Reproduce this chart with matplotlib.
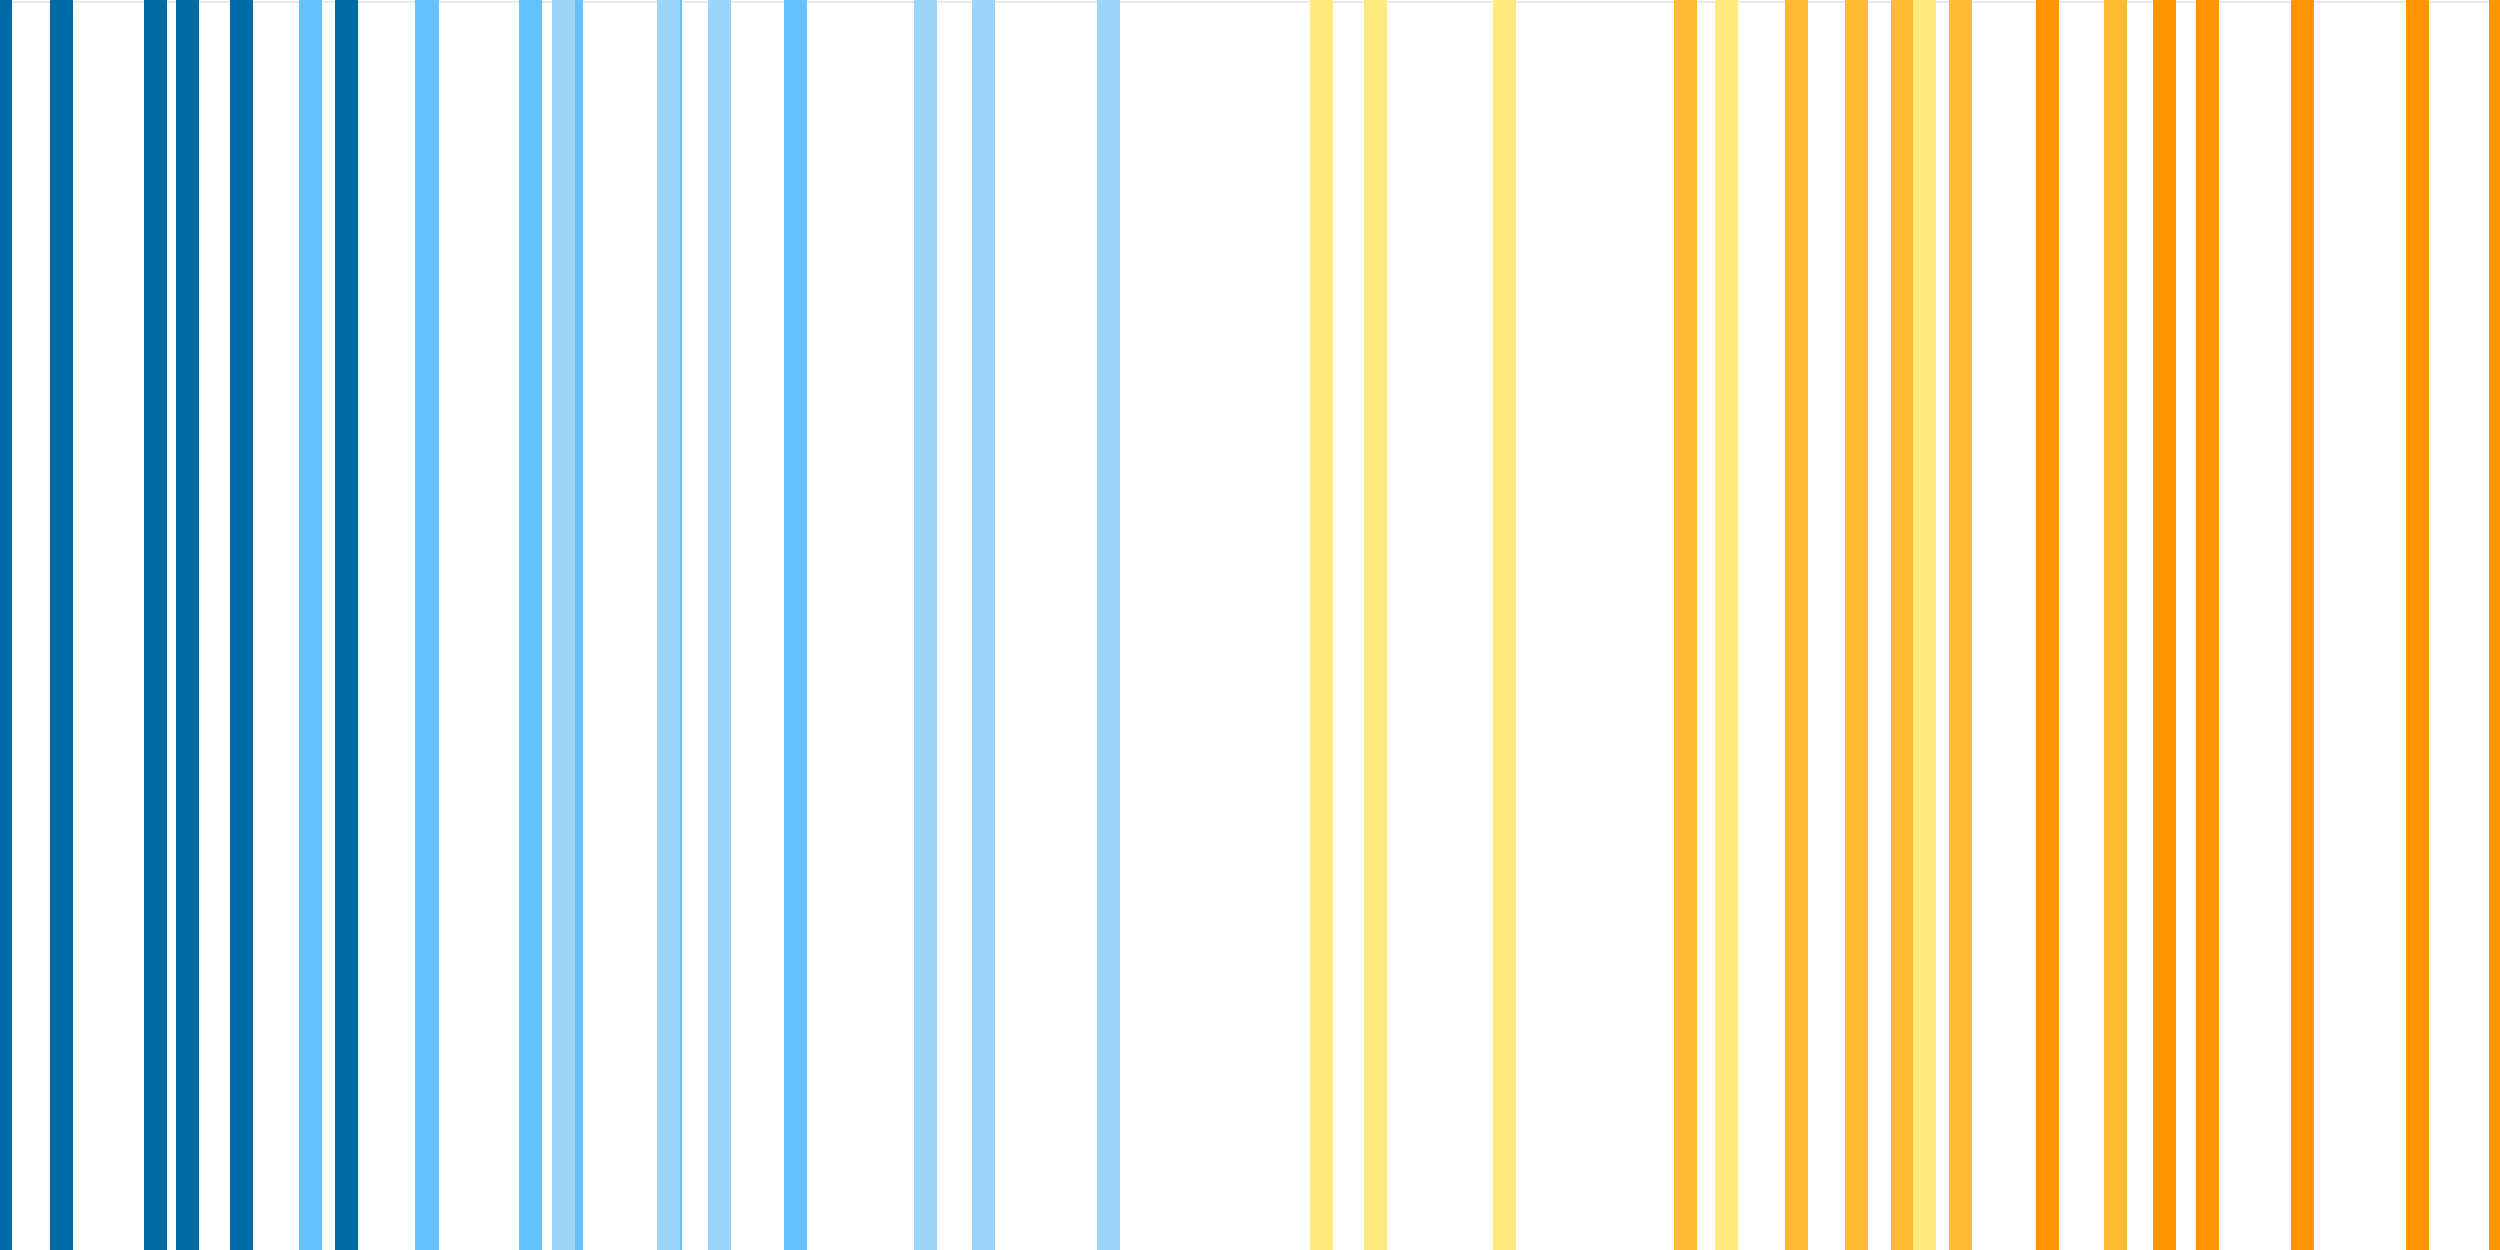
import matplotlib
matplotlib.use("Agg")
import matplotlib.pyplot as plt

# stripe positions (axis units) and class level of each stripe
positions = [0.0, 2.44, 6.23, 7.51, 9.68, 12.4, 13.84, 17.08, 21.23, 22.84, 22.52,
             26.82, 26.74, 28.78, 31.81, 37.01, 39.34, 44.34, 52.86, 55.03, 60.19,
             67.41, 69.07, 71.87, 74.27, 76.08, 76.99, 78.42, 81.9, 84.63, 86.57,
             88.31, 92.11, 96.7, 100.0]
levels = [-3, -3, -3, -3, -3, -2, -3, -2, -2, -2, -1,
          -2, -1, -1, -2, -1, -1, -1, 1, 1, 1,
          2, 1, 2, 2, 2, 1, 2, 3, 2, 3,
          3, 3, 3, 3]

palette = {-3: "#036aa8", -2: "#66c2ff", -1: "#9dd5f9",
           1: "#ffea80", 2: "#ffbb33", 3: "#ff9500"}

fig = plt.figure(figsize=(25, 12.5), dpi=100)
ax = fig.add_axes([0, 0, 1, 1])
ax.axhline(0.9985, color="#ebebeb", lw=1.5, zorder=0)
for x, lv in zip(positions, levels):
    ax.bar(x, 1.0, width=0.92, bottom=0, color=palette[lv], edgecolor="none", zorder=2)
ax.set_xlim(0, 100)
ax.set_ylim(0, 1.0)
ax.axis("off")
fig.savefig("out.png", dpi=100, facecolor="white")
